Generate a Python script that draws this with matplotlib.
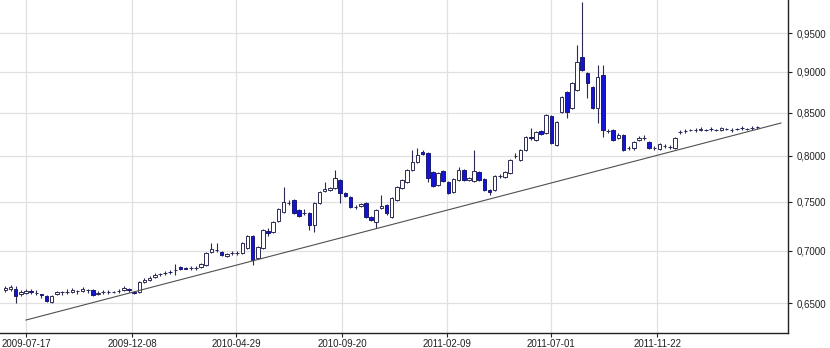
import matplotlib
matplotlib.use("Agg")
import matplotlib.pyplot as plt
import matplotlib.dates as mdates
from matplotlib.ticker import FixedLocator, FuncFormatter, NullLocator
import numpy as np

# weekly candles, first week and count
first_week = np.datetime64("2009-06-19")
n_weeks = 147

opens = [
    0.6622, 0.6631, 0.6631, 0.6585, 0.6594, 0.6613, 0.6594, 0.6585, 0.6567, 0.6512,
    0.6585, 0.6604, 0.6604, 0.6604, 0.6613, 0.6613, 0.6622, 0.6622, 0.6585, 0.6604,
    0.6604, 0.6604, 0.6613, 0.6622, 0.6631, 0.6604, 0.6604, 0.6697, 0.6716, 0.6744,
    0.6773, 0.6782, 0.6792, 0.6811, 0.6840, 0.6830, 0.6830, 0.6830,
    0.6840, 0.6859, 0.6986, 0.7005, 0.6986, 0.6946, 0.6976, 0.6976, 0.6976, 0.7026,
    0.7145, 0.6927, 0.7026, 0.7195, 0.7185, 0.7297, 0.7390, 0.7484, 0.7515, 0.7410,
    0.7379, 0.7379, 0.7256, 0.7484, 0.7611, 0.7622, 0.7643, 0.7730, 0.7590, 0.7547,
    0.7442, 0.7452, 0.7484, 0.7338, 0.7287, 0.7431, 0.7463,
    0.7338, 0.7515, 0.7643, 0.7708, 0.7840, 0.7928, 0.8041, 0.8030, 0.7818, 0.7676,
    0.7829, 0.7708, 0.7600, 0.7730, 0.7840, 0.7730, 0.7719, 0.7818, 0.7741, 0.7622,
    0.7622, 0.7774, 0.7763, 0.7807, 0.7996, 0.7951, 0.8064, 0.8213, 0.8178, 0.8283,
    0.8259, 0.8459, 0.8121, 0.8507, 0.8750, 0.8555, 0.8774, 0.9192, 0.8987, 0.8811,
    0.8555, 0.8961, 0.8283, 0.8294, 0.8201, 0.8236, 0.8087, 0.8087, 0.8178, 0.8201,
    0.8155, 0.8087, 0.8075, 0.8109, 0.8098, 0.8087,
    0.8271, 0.8283, 0.8290, 0.8294, 0.8300, 0.8298, 0.8306, 0.8294, 0.8294, 0.8306,
    0.8294, 0.8306, 0.8318, 0.8306, 0.8318, 0.8329,
]
highs = [
    0.6659, 0.6669, 0.6659, 0.6622, 0.6631, 0.6631, 0.6622, 0.6590, 0.6576, 0.6576,
    0.6613, 0.6613, 0.6631, 0.6641, 0.6622, 0.6650, 0.6631, 0.6631, 0.6613, 0.6622,
    0.6622, 0.6613, 0.6631, 0.6659, 0.6641, 0.6613, 0.6706, 0.6735, 0.6754, 0.6782,
    0.6782, 0.6801, 0.6811, 0.6869, 0.6850, 0.6840, 0.6850, 0.6850,
    0.6878, 0.6986, 0.7075, 0.7075, 0.6996, 0.6976, 0.6996, 0.6996, 0.7085, 0.7155,
    0.7155, 0.7045, 0.7215, 0.7226, 0.7297, 0.7431, 0.7654, 0.7515, 0.7526, 0.7421,
    0.7421, 0.7390, 0.7494, 0.7611, 0.7708, 0.7654, 0.7840, 0.7741, 0.7600, 0.7558,
    0.7463, 0.7484, 0.7494, 0.7348, 0.7421, 0.7568, 0.7473,
    0.7547, 0.7665, 0.7741, 0.7851, 0.8064, 0.8087, 0.8064, 0.8041, 0.7829, 0.7818,
    0.7840, 0.7719, 0.7752, 0.7873, 0.7851, 0.7763, 0.8064, 0.7829, 0.7752, 0.7632,
    0.7785, 0.7796, 0.7829, 0.7962, 0.8030, 0.8075, 0.8224, 0.8318, 0.8283, 0.8294,
    0.8483, 0.8471, 0.8400, 0.8700, 0.8762, 0.8873, 0.9347, 0.9930, 0.9000, 0.8824,
    0.9089, 0.9089, 0.8306, 0.8306, 0.8259, 0.8248, 0.8109, 0.8167, 0.8224, 0.8236,
    0.8167, 0.8109, 0.8144, 0.8132, 0.8121, 0.8213,
    0.8294, 0.8306, 0.8306, 0.8318, 0.8329, 0.8306, 0.8329, 0.8306, 0.8329, 0.8318,
    0.8318, 0.8318, 0.8341, 0.8318, 0.8341, 0.8341,
]
lows = [
    0.6604, 0.6613, 0.6503, 0.6567, 0.6585, 0.6585, 0.6576, 0.6549, 0.6512, 0.6503,
    0.6576, 0.6576, 0.6585, 0.6594, 0.6585, 0.6604, 0.6594, 0.6567, 0.6576, 0.6585,
    0.6585, 0.6594, 0.6594, 0.6613, 0.6604, 0.6585, 0.6594, 0.6688, 0.6706, 0.6735,
    0.6754, 0.6763, 0.6773, 0.6763, 0.6811, 0.6820, 0.6811, 0.6811,
    0.6830, 0.6850, 0.6976, 0.6986, 0.6946, 0.6937, 0.6956, 0.6956, 0.6966, 0.7016,
    0.6859, 0.6917, 0.7016, 0.7145, 0.7175, 0.7287, 0.7379, 0.7463, 0.7369, 0.7338,
    0.7358, 0.7205, 0.7185, 0.7473, 0.7600, 0.7611, 0.7632, 0.7484, 0.7547, 0.7431,
    0.7421, 0.7442, 0.7328, 0.7297, 0.7226, 0.7421, 0.7358,
    0.7328, 0.7505, 0.7632, 0.7697, 0.7829, 0.7917, 0.8007, 0.7708, 0.7654, 0.7665,
    0.7708, 0.7579, 0.7590, 0.7719, 0.7719, 0.7719, 0.7708, 0.7719, 0.7611, 0.7568,
    0.7611, 0.7752, 0.7752, 0.7796, 0.7973, 0.7940, 0.8052, 0.8178, 0.8167, 0.8236,
    0.8248, 0.8132, 0.8109, 0.8495, 0.8435, 0.8543, 0.8762, 0.9012, 0.8676, 0.8543,
    0.8376, 0.8213, 0.8259, 0.8167, 0.8190, 0.8052, 0.8064, 0.8064, 0.8167, 0.8178,
    0.8075, 0.8064, 0.8064, 0.8087, 0.8075, 0.8075,
    0.8248, 0.8259, 0.8283, 0.8271, 0.8283, 0.8283, 0.8283, 0.8283, 0.8283, 0.8294,
    0.8271, 0.8294, 0.8294, 0.8294, 0.8294, 0.8306,
]
closes = [
    0.6641, 0.6650, 0.6567, 0.6604, 0.6613, 0.6604, 0.6597, 0.6580, 0.6521, 0.6567,
    0.6604, 0.6606, 0.6606, 0.6622, 0.6615, 0.6631, 0.6624, 0.6576, 0.6594, 0.6606,
    0.6602, 0.6606, 0.6615, 0.6641, 0.6622, 0.6594, 0.6697, 0.6716, 0.6735, 0.6763,
    0.6775, 0.6784, 0.6790, 0.6813, 0.6820, 0.6826, 0.6832, 0.6835,
    0.6869, 0.6976, 0.7016, 0.7003, 0.6956, 0.6966, 0.6978, 0.6980, 0.7075, 0.7145,
    0.6907, 0.7036, 0.7205, 0.7175, 0.7287, 0.7421, 0.7494, 0.7486, 0.7379, 0.7348,
    0.7381, 0.7256, 0.7484, 0.7600, 0.7632, 0.7643, 0.7752, 0.7590, 0.7558, 0.7442,
    0.7444, 0.7473, 0.7338, 0.7307, 0.7410, 0.7452, 0.7379,
    0.7537, 0.7654, 0.7730, 0.7840, 0.7928, 0.8007, 0.8018, 0.7752, 0.7665, 0.7807,
    0.7719, 0.7590, 0.7741, 0.7840, 0.7730, 0.7752, 0.7829, 0.7730, 0.7622, 0.7600,
    0.7774, 0.7776, 0.7818, 0.7951, 0.7998, 0.8064, 0.8213, 0.8201, 0.8271, 0.8248,
    0.8471, 0.8144, 0.8388, 0.8688, 0.8507, 0.8861, 0.9126, 0.9025, 0.8861, 0.8555,
    0.8936, 0.8294, 0.8285, 0.8178, 0.8236, 0.8064, 0.8089, 0.8155, 0.8201, 0.8203,
    0.8087, 0.8089, 0.8132, 0.8111, 0.8100, 0.8201,
    0.8273, 0.8281, 0.8294, 0.8296, 0.8306, 0.8294, 0.8302, 0.8296, 0.8318, 0.8304,
    0.8296, 0.8302, 0.8314, 0.8308, 0.8320, 0.8327,
]

# support line (two anchor points)
trend_dates = ["2009-07-17", "2012-05-08"]
trend_values = [0.6349, 0.8376]

xtick_dates = ["2009-07-17", "2009-12-08", "2010-04-29", "2010-09-20",
               "2011-02-09", "2011-07-01", "2011-11-22"]
yticks = [0.65, 0.70, 0.75, 0.80, 0.85, 0.90, 0.95]

plt.rcParams['font.family'] = ['Liberation Sans', 'DejaVu Sans']

dates = first_week + np.arange(n_weeks) * np.timedelta64(7, "D")
x = mdates.date2num(dates.astype("datetime64[D]").astype(object))
o = np.array(opens); h = np.array(highs); l = np.array(lows); c = np.array(closes)
up = c >= o

fig = plt.figure(figsize=(8.3, 3.48), dpi=100)
ax = fig.add_axes([0.0, 0.043, 0.9494, 0.957])

ax.set_yscale("log")
wick_col = "#2b2b55"
ax.vlines(x, l, h, color=wick_col, linewidth=0.8, zorder=2)
body_w = 4.8
bot = np.minimum(o, c)
hgt = np.maximum(np.abs(c - o), 0.0004)
ax.bar(x[up], hgt[up], bottom=bot[up], width=body_w, color="white",
       edgecolor="#2b2b55", linewidth=0.7, zorder=3)
ax.bar(x[~up], hgt[~up], bottom=bot[~up], width=body_w, color="#1414d8",
       edgecolor="#1a1a70", linewidth=0.7, zorder=3)

td = [mdates.datestr2num(d) for d in trend_dates]
ax.plot(td, trend_values, color="#505050", linewidth=0.8, zorder=4)

x0 = mdates.datestr2num("2009-07-17")
ax.set_xlim(x0 - 35.3, x0 + 1035.6)
ax.set_ylim(0.6234, 0.9958)

ax.yaxis.tick_right()
ax.yaxis.set_major_locator(FixedLocator(yticks))
ax.yaxis.set_minor_locator(NullLocator())
ax.yaxis.set_major_formatter(FuncFormatter(lambda v, p: f"{v:.4f}".replace(".", ",")))
ax.set_xticks([mdates.datestr2num(d) for d in xtick_dates])
ax.set_xticklabels(xtick_dates)
ax.tick_params(axis="both", labelsize=7, length=3, width=0.8, colors="#222222")
ax.tick_params(axis="x", pad=1.5)
ax.tick_params(axis="y", pad=3)

ax.grid(True, color="#e0e0e0", linewidth=0.9, zorder=0)
ax.set_axisbelow(True)
for s in ["left", "top"]:
    ax.spines[s].set_visible(False)
for s in ["right", "bottom"]:
    ax.spines[s].set_color("#222222")
    ax.spines[s].set_linewidth(1.0)

fig.savefig("out.png", dpi=100)
